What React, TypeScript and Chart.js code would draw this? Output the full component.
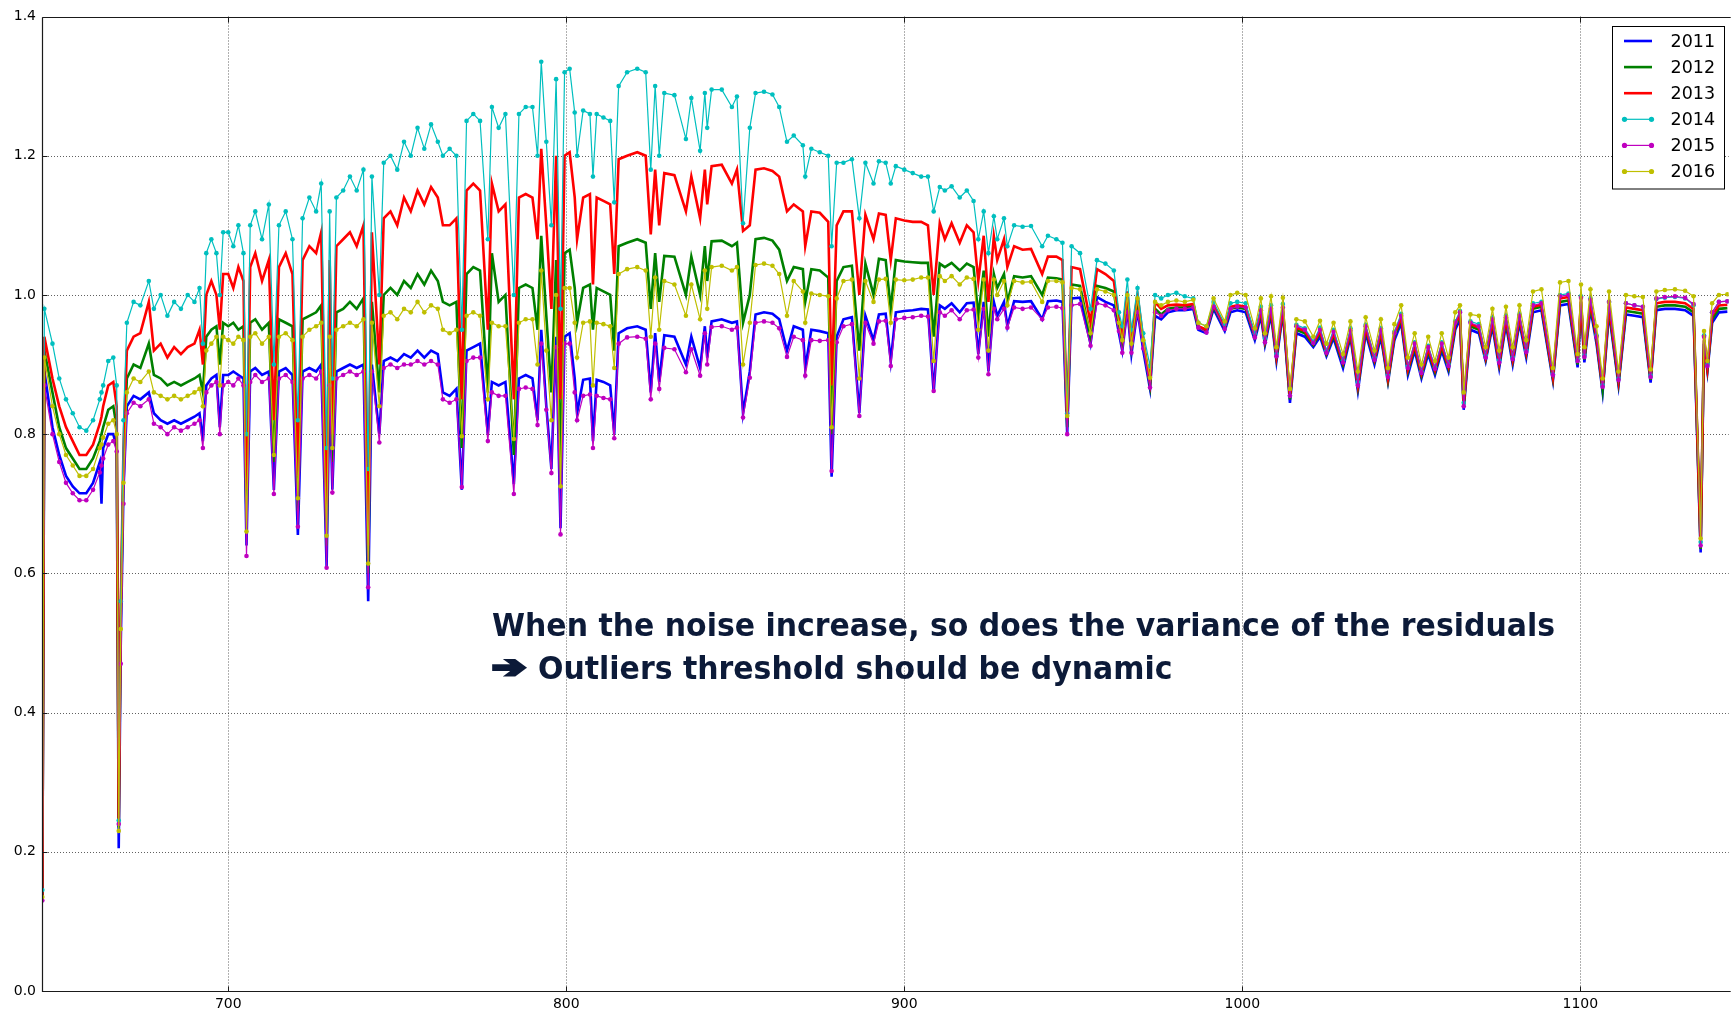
import React, { useEffect, useRef } from "react";
import { Chart, registerables } from "chart.js";

Chart.register(...registerables);

// ---------------- data ----------------
const WAVELENGTH = [
  // 645-670
  645.0, 645.6, 648, 650, 652, 654, 656, 658, 660, 662, 662.5, 663, 664.5, 666, 667, 667.6, 668.2, 669, 670,
  // 672-699
  672, 674, 676.5, 678, 680, 682, 684, 686, 688, 690, 691.5, 692.5, 693.5, 695, 696.5, 697.5, 698.5,
  // 700-801
  700, 701.5, 703, 704.5, 705.4, 706.5, 708, 710, 712, 713.5,
  715, 717, 719, 720.6, 722, 724, 726, 727.5, 729.1, 730,
  730.8, 732, 734, 736, 738, 740, 741.4, 742.5, 744.7, 746,
  748, 750, 752, 754, 756, 758, 760, 762, 763.5, 765.5,
  767.5, 769.1, 770.5, 772.5, 774.5, 776.8, 778, 780, 782, 784.5,
  786, 788, 790, 791.5, 792.6, 794.1, 795.6, 797, 798.3, 799.5,
  801,
  // 802-900
  802.5, 803.2, 805, 807, 807.9, 809, 811, 813, 814.2, 815.5,
  818, 821, 823.5, 825, 826.3, 827.5, 829, 832, 835.4, 837,
  839.6, 841, 841.7, 843, 846, 849, 850.5, 852.3, 854.3, 856,
  858.5, 861, 863, 865.3, 867.3, 870, 870.7, 872.5, 875, 877.5,
  878.5, 880, 882, 884.5, 886.7, 888.5, 890.9, 892.5, 894.5, 896,
  897.5, 900,
  // 902-999
  902.5, 905, 907, 908.7, 910.5, 912, 914, 916.4, 918.5, 920.5,
  921.9, 923.5, 924.9, 926.5, 927.5, 929.5, 930.5, 932.5, 935, 937.5,
  940.8, 942.5, 945, 946.8, 948.2, 949.5, 952, 955.1, 957, 959.5,
  962, 963.5, 964.5, 966, 967.2, 969, 970.7, 972.7, 974.2, 976,
  978, 980.5, 983, 985.5, 987, 989.4, 991.5, 994.8, 996.5, 998.5,
  // 1001-1143
  1001, 1003.7, 1005.5, 1006.7, 1008.5, 1010.1, 1012, 1014.1, 1016, 1018.5,
  1021, 1023, 1024.9, 1027, 1029.8, 1032, 1034.2, 1036.5, 1039.1, 1041,
  1043.1, 1045, 1047, 1049, 1051, 1053, 1055, 1057, 1059, 1061,
  1063, 1064.4, 1065.5, 1067.5, 1070, 1072, 1074, 1076, 1078, 1080,
  1082, 1084, 1086, 1088.5, 1091.9, 1094, 1096.5, 1099.2, 1100.2, 1101.2,
  1103, 1104.8, 1106.6, 1108.5, 1111.3, 1113.5, 1116, 1118.5, 1120.8, 1122.5,
  1125, 1128, 1131, 1133.5, 1135.6, 1136.6, 1137.6, 1139, 1141, 1143.5,
];

const Y2011 = [
  0.13, 0.89, 0.81, 0.77, 0.74, 0.725, 0.715, 0.715, 0.73, 0.76, 0.70, 0.78, 0.80, 0.80, 0.78, 0.205, 0.50, 0.72, 0.84,
  0.855, 0.85, 0.86, 0.83, 0.82, 0.815, 0.82, 0.815, 0.82, 0.825, 0.83, 0.79, 0.87, 0.88, 0.885, 0.81, 0.885,
  0.885, 0.89, 0.885, 0.88, 0.64, 0.89, 0.895, 0.885, 0.89, 0.72,
  0.89, 0.895, 0.885, 0.655, 0.89, 0.895, 0.89, 0.90, 0.61, 0.88,
  0.72, 0.89, 0.895, 0.90, 0.895, 0.90, 0.56, 0.90, 0.80, 0.905,
  0.91, 0.905, 0.915, 0.91, 0.92, 0.91, 0.92, 0.915, 0.86, 0.855,
  0.865, 0.72, 0.92, 0.925, 0.93, 0.80, 0.875, 0.87, 0.875, 0.728,
  0.88, 0.885, 0.88, 0.82, 0.95, 0.84, 0.75, 0.94, 0.665, 0.94,
  0.945,
  0.88, 0.83, 0.878, 0.88, 0.79, 0.878, 0.875, 0.87, 0.80, 0.945,
  0.952, 0.955, 0.95, 0.86, 0.945, 0.875, 0.942, 0.94, 0.90, 0.94,
  0.895, 0.955, 0.91, 0.962, 0.965, 0.96, 0.962, 0.83, 0.89, 0.972,
  0.975, 0.973, 0.965, 0.92, 0.955, 0.95, 0.895, 0.95, 0.948, 0.945,
  0.739, 0.94, 0.965, 0.968, 0.83, 0.97, 0.935, 0.972, 0.973, 0.905,
  0.975, 0.977,
  0.978, 0.98, 0.979, 0.86, 0.985, 0.98, 0.988, 0.975, 0.988, 0.989,
  0.915, 0.99, 0.89, 0.99, 0.97, 0.99, 0.955, 0.991, 0.99, 0.991,
  0.965, 0.991, 0.992, 0.99, 0.80, 0.995, 0.996, 0.93, 0.997, 0.99,
  0.985, 0.945, 0.92, 0.98, 0.915, 0.978, 0.92, 0.865, 0.97, 0.965,
  0.975, 0.978, 0.978, 0.98, 0.95, 0.945, 0.98, 0.948, 0.975, 0.978,
  0.975, 0.935, 0.97, 0.928, 0.972, 0.905, 0.975, 0.845, 0.945, 0.94,
  0.925, 0.94, 0.912, 0.938, 0.895, 0.94, 0.862, 0.945, 0.90, 0.94,
  0.875, 0.935, 0.96, 0.885, 0.92, 0.88, 0.915, 0.885, 0.92, 0.89,
  0.95, 0.965, 0.835, 0.95, 0.945, 0.905, 0.955, 0.895, 0.958, 0.90,
  0.96, 0.91, 0.975, 0.978, 0.877, 0.985, 0.987, 0.896, 0.985, 0.903,
  0.98, 0.93, 0.86, 0.975, 0.87, 0.972, 0.97, 0.968, 0.874, 0.978,
  0.98, 0.98, 0.978, 0.97, 0.63, 0.93, 0.89, 0.96, 0.975, 0.976,
];

const Y2012 = [
  0.13, 0.92, 0.86, 0.81, 0.78, 0.765, 0.75, 0.75, 0.765, 0.79, 0.80, 0.81, 0.835, 0.84, 0.81, 0.235, 0.54, 0.75, 0.88,
  0.90, 0.895, 0.93, 0.885, 0.88, 0.87, 0.875, 0.87, 0.875, 0.88, 0.885, 0.86, 0.94, 0.95, 0.955, 0.90, 0.96,
  0.955, 0.96, 0.95, 0.955, 0.68, 0.96, 0.965, 0.95, 0.96, 0.76,
  0.965, 0.96, 0.955, 0.69, 0.965, 0.97, 0.975, 0.985, 0.64, 0.96,
  0.76, 0.975, 0.98, 0.99, 0.98, 0.995, 0.60, 0.99, 0.86, 1.0,
  1.01, 1.0, 1.02, 1.01, 1.03, 1.015, 1.035, 1.02, 0.99, 0.985,
  0.99, 0.78, 1.03, 1.04, 1.035, 0.86, 1.06, 0.99, 1.0, 0.77,
  1.01, 1.015, 1.01, 0.95, 1.085, 0.97, 0.86, 1.05, 0.75, 1.06,
  1.065,
  1.01, 0.96, 1.01, 1.015, 0.95, 1.01, 1.005, 1.0, 0.92, 1.07,
  1.075, 1.08, 1.075, 0.98, 1.06, 0.99, 1.056, 1.055, 1.0, 1.055,
  1.0, 1.07, 1.02, 1.077, 1.078, 1.07, 1.075, 0.96, 1.0, 1.08,
  1.082, 1.078, 1.065, 1.02, 1.04, 1.037, 0.99, 1.037, 1.035, 1.025,
  0.80, 1.02, 1.04, 1.042, 0.92, 1.045, 1.0, 1.052, 1.05, 0.98,
  1.05, 1.048,
  1.047, 1.046, 1.046, 0.94, 1.045, 1.04, 1.046, 1.035, 1.045, 1.04,
  0.97, 1.035, 0.94, 1.03, 1.01, 1.03, 0.99, 1.027, 1.025, 1.027,
  1.0, 1.025, 1.024, 1.022, 0.81, 1.015, 1.013, 0.94, 1.013, 1.01,
  1.005, 0.955, 0.93, 0.995, 0.925, 0.99, 0.93, 0.87, 0.98, 0.972,
  0.98, 0.982, 0.982, 0.984, 0.953, 0.948, 0.983, 0.952, 0.98, 0.982,
  0.98, 0.94, 0.975, 0.932, 0.977, 0.91, 0.978, 0.85, 0.95, 0.945,
  0.928, 0.945, 0.915, 0.942, 0.90, 0.944, 0.867, 0.95, 0.905, 0.945,
  0.877, 0.94, 0.965, 0.89, 0.925, 0.884, 0.92, 0.889, 0.925, 0.894,
  0.955, 0.97, 0.84, 0.955, 0.95, 0.908, 0.96, 0.90, 0.963, 0.905,
  0.965, 0.915, 0.98, 0.983, 0.88, 0.99, 0.992, 0.90, 0.99, 0.907,
  0.985, 0.935, 0.864, 0.98, 0.874, 0.977, 0.975, 0.973, 0.878, 0.983,
  0.985, 0.985, 0.983, 0.975, 0.635, 0.935, 0.893, 0.965, 0.98, 0.981,
];

const Y2013 = [
  0.13, 0.94, 0.88, 0.84, 0.81, 0.79, 0.77, 0.77, 0.785, 0.815, 0.825, 0.84, 0.87, 0.875, 0.84, 0.24, 0.55, 0.78, 0.92,
  0.94, 0.945, 0.99, 0.92, 0.93, 0.91, 0.925, 0.915, 0.925, 0.93, 0.95, 0.90, 1.0, 1.02, 1.0, 0.95, 1.03,
  1.03, 1.01, 1.04, 1.02, 0.72, 1.04, 1.06, 1.02, 1.05, 0.82,
  1.04, 1.06, 1.03, 0.74, 1.05, 1.07, 1.06, 1.09, 0.68, 1.05,
  0.80, 1.07, 1.08, 1.09, 1.07, 1.10, 0.64, 1.09, 0.90, 1.11,
  1.12, 1.10, 1.14, 1.12, 1.15, 1.13, 1.155, 1.14, 1.10, 1.10,
  1.11, 0.85, 1.15, 1.16, 1.15, 0.95, 1.16, 1.12, 1.13, 0.85,
  1.14, 1.145, 1.14, 1.08, 1.21, 1.10, 0.98, 1.20, 0.85, 1.20,
  1.205,
  1.14, 1.08, 1.14, 1.145, 1.015, 1.14, 1.135, 1.13, 1.03, 1.195,
  1.20, 1.205, 1.20, 1.087, 1.18, 1.10, 1.175, 1.172, 1.12, 1.17,
  1.11, 1.18, 1.13, 1.185, 1.187, 1.16, 1.18, 1.092, 1.10, 1.18,
  1.182, 1.178, 1.17, 1.12, 1.13, 1.12, 1.07, 1.12, 1.118, 1.105,
  0.87, 1.10, 1.12, 1.12, 1.0, 1.115, 1.08, 1.117, 1.115, 1.05,
  1.11, 1.107,
  1.105, 1.105, 1.10, 1.0, 1.103, 1.08, 1.103, 1.075, 1.10, 1.09,
  1.02, 1.085, 0.99, 1.084, 1.05, 1.08, 1.04, 1.07, 1.065, 1.066,
  1.03, 1.055, 1.055, 1.05, 0.82, 1.04, 1.037, 0.96, 1.037, 1.03,
  1.02, 0.965, 0.94, 1.005, 0.935, 1.0, 0.935, 0.875, 0.99, 0.98,
  0.985, 0.986, 0.985, 0.987, 0.955, 0.95, 0.986, 0.955, 0.983, 0.985,
  0.983, 0.942, 0.978, 0.935, 0.98, 0.912, 0.982, 0.852, 0.953, 0.948,
  0.93, 0.948, 0.917, 0.945, 0.903, 0.947, 0.87, 0.953, 0.907, 0.948,
  0.88, 0.943, 0.968, 0.893, 0.928, 0.887, 0.923, 0.892, 0.928, 0.897,
  0.958, 0.972, 0.842, 0.958, 0.953, 0.91, 0.963, 0.902, 0.966, 0.907,
  0.968, 0.917, 0.983, 0.986, 0.882, 0.995, 0.997, 0.903, 0.994, 0.91,
  0.99, 0.938, 0.866, 0.985, 0.877, 0.982, 0.98, 0.978, 0.88, 0.988,
  0.99, 0.99, 0.988, 0.98, 0.64, 0.938, 0.895, 0.97, 0.985, 0.986,
];

const Y2014 = [
  0.145, 0.98, 0.93, 0.88, 0.85, 0.83, 0.81, 0.805, 0.82, 0.85, 0.86, 0.87, 0.905, 0.91, 0.87, 0.245, 0.56, 0.82, 0.96,
  0.99, 0.985, 1.02, 0.98, 1.0, 0.97, 0.99, 0.98, 1.0, 0.99, 1.01, 0.93, 1.06, 1.08, 1.06, 1.0, 1.09,
  1.09, 1.07, 1.10, 1.06, 0.80, 1.10, 1.12, 1.08, 1.13, 0.90,
  1.10, 1.12, 1.08, 0.82, 1.11, 1.14, 1.12, 1.16, 0.78, 1.12,
  0.88, 1.14, 1.15, 1.17, 1.15, 1.18, 0.75, 1.17, 1.0, 1.19,
  1.20, 1.18, 1.22, 1.20, 1.24, 1.21, 1.245, 1.22, 1.20, 1.21,
  1.20, 0.95, 1.25, 1.26, 1.25, 1.08, 1.27, 1.24, 1.26, 1.0,
  1.26, 1.27, 1.27, 1.20, 1.335, 1.22, 1.10, 1.31, 0.98, 1.32,
  1.325,
  1.262, 1.20, 1.265, 1.26, 1.17, 1.26, 1.255, 1.25, 1.133, 1.30,
  1.32, 1.325, 1.32, 1.18, 1.30, 1.20, 1.29, 1.287, 1.224, 1.283,
  1.207, 1.29, 1.24, 1.295, 1.295, 1.27, 1.285, 1.103, 1.24, 1.29,
  1.292, 1.288, 1.27, 1.22, 1.229, 1.215, 1.17, 1.21, 1.205, 1.20,
  1.07, 1.19, 1.19, 1.195, 1.11, 1.19, 1.16, 1.192, 1.19, 1.16,
  1.185, 1.18,
  1.175, 1.17, 1.17, 1.12, 1.155, 1.15, 1.156, 1.14, 1.15, 1.135,
  1.08, 1.12, 1.06, 1.113, 1.08, 1.11, 1.07, 1.10, 1.098, 1.099,
  1.07, 1.085, 1.08, 1.075, 0.83, 1.07, 1.06, 0.98, 1.05, 1.045,
  1.035, 0.975, 0.955, 1.022, 0.95, 1.01, 0.945, 0.898, 1.0, 0.995,
  1.0, 1.003, 0.998, 0.995, 0.96, 0.955, 0.99, 0.958, 0.988, 0.99,
  0.988, 0.945, 0.983, 0.938, 0.985, 0.915, 0.987, 0.855, 0.957, 0.952,
  0.933, 0.953, 0.92, 0.95, 0.906, 0.952, 0.875, 0.957, 0.91, 0.952,
  0.884, 0.947, 0.973, 0.897, 0.932, 0.89, 0.927, 0.896, 0.932, 0.90,
  0.962, 0.977, 0.845, 0.962, 0.958, 0.913, 0.967, 0.906, 0.97, 0.91,
  0.972, 0.92, 0.988, 0.99, 0.886, 1.0, 1.002, 0.906, 0.998, 0.913,
  0.995, 0.942, 0.87, 0.99, 0.88, 0.988, 0.985, 0.983, 0.884, 0.994,
  0.996, 0.997, 0.995, 0.985, 0.645, 0.942, 0.90, 0.975, 0.99, 0.991,
];

const Y2015 = [
  0.13, 0.87, 0.80, 0.76, 0.73, 0.715, 0.705, 0.705, 0.72, 0.745, 0.755, 0.765, 0.785, 0.79, 0.775, 0.24, 0.47, 0.70, 0.83,
  0.845, 0.84, 0.85, 0.815, 0.81, 0.80, 0.81, 0.805, 0.81, 0.815, 0.82, 0.78, 0.86, 0.87, 0.875, 0.80, 0.87,
  0.875, 0.87, 0.88, 0.87, 0.625, 0.875, 0.885, 0.875, 0.88, 0.714,
  0.88, 0.885, 0.875, 0.667, 0.88, 0.885, 0.88, 0.89, 0.608, 0.87,
  0.716, 0.88, 0.885, 0.89, 0.885, 0.89, 0.58, 0.89, 0.788, 0.895,
  0.90, 0.895, 0.90, 0.90, 0.905, 0.90, 0.905, 0.90, 0.85, 0.845,
  0.85, 0.724, 0.905, 0.91, 0.91, 0.79, 0.86, 0.855, 0.855, 0.714,
  0.865, 0.867, 0.865, 0.813, 0.93, 0.835, 0.744, 0.925, 0.656, 0.93,
  0.93,
  0.86, 0.82, 0.855, 0.857, 0.78, 0.855, 0.852, 0.85, 0.794, 0.93,
  0.939, 0.94, 0.937, 0.85, 0.93, 0.865, 0.924, 0.922, 0.889, 0.922,
  0.884, 0.945, 0.90, 0.954, 0.955, 0.95, 0.953, 0.824, 0.881, 0.96,
  0.962, 0.96, 0.952, 0.911, 0.94, 0.935, 0.884, 0.935, 0.934, 0.935,
  0.747, 0.932, 0.955, 0.958, 0.826, 0.96, 0.93, 0.962, 0.963, 0.898,
  0.965, 0.967,
  0.968, 0.97, 0.969, 0.862, 0.975, 0.97, 0.978, 0.965, 0.978, 0.979,
  0.91, 0.98, 0.886, 0.98, 0.965, 0.98, 0.953, 0.982, 0.98, 0.982,
  0.965, 0.982, 0.983, 0.981, 0.80, 0.985, 0.987, 0.927, 0.988, 0.985,
  0.978, 0.948, 0.917, 0.975, 0.917, 0.975, 0.923, 0.867, 0.975, 0.97,
  0.978, 0.98, 0.98, 0.982, 0.953, 0.946, 0.983, 0.951, 0.98, 0.983,
  0.982, 0.939, 0.978, 0.932, 0.98, 0.912, 0.982, 0.855, 0.955, 0.95,
  0.931, 0.95, 0.917, 0.947, 0.903, 0.949, 0.87, 0.955, 0.907, 0.95,
  0.882, 0.945, 0.97, 0.895, 0.93, 0.888, 0.925, 0.894, 0.93, 0.898,
  0.96, 0.975, 0.84, 0.96, 0.955, 0.91, 0.965, 0.903, 0.968, 0.908,
  0.97, 0.918, 0.985, 0.988, 0.885, 0.998, 1.0, 0.905, 0.996, 0.911,
  0.993, 0.94, 0.868, 0.99, 0.878, 0.988, 0.985, 0.983, 0.882, 0.995,
  0.997, 0.998, 0.996, 0.987, 0.64, 0.94, 0.898, 0.975, 0.99, 0.991,
];

const Y2016 = [
  0.135, 0.91, 0.84, 0.80, 0.77, 0.755, 0.74, 0.74, 0.75, 0.78, 0.785, 0.795, 0.815, 0.82, 0.80, 0.23, 0.52, 0.73, 0.86,
  0.88, 0.875, 0.89, 0.86, 0.855, 0.85, 0.855, 0.85, 0.855, 0.86, 0.865, 0.84, 0.92, 0.93, 0.94, 0.87, 0.94,
  0.935, 0.93, 0.94, 0.935, 0.66, 0.94, 0.945, 0.93, 0.94, 0.77,
  0.94, 0.945, 0.935, 0.708, 0.94, 0.95, 0.955, 0.96, 0.654, 0.94,
  0.78, 0.95, 0.955, 0.96, 0.955, 0.965, 0.614, 0.96, 0.84, 0.97,
  0.975, 0.965, 0.98, 0.975, 0.99, 0.975, 0.985, 0.98, 0.95, 0.945,
  0.95, 0.797, 0.97, 0.975, 0.97, 0.85, 0.96, 0.955, 0.955, 0.793,
  0.96, 0.965, 0.965, 0.90, 1.035, 0.92, 0.82, 1.0, 0.725, 1.01,
  1.01,
  0.96, 0.91, 0.96, 0.962, 0.87, 0.96, 0.958, 0.955, 0.895, 1.03,
  1.037, 1.04, 1.035, 0.94, 1.025, 0.95, 1.02, 1.015, 0.97, 1.015,
  0.965, 1.035, 0.98, 1.04, 1.042, 1.035, 1.04, 0.90, 0.96, 1.043,
  1.045, 1.042, 1.03, 0.97, 1.02, 1.005, 0.96, 1.002, 1.0, 0.998,
  0.81, 0.995, 1.02, 1.022, 0.88, 1.02, 0.99, 1.022, 1.023, 0.96,
  1.022, 1.021,
  1.022, 1.025, 1.025, 0.905, 1.027, 1.02, 1.027, 1.015, 1.025, 1.023,
  0.95, 1.022, 0.92, 1.022, 1.0, 1.02, 0.985, 1.02, 1.018, 1.019,
  0.99, 1.02, 1.02, 1.018, 0.826, 1.01, 1.008, 0.945, 1.008, 1.005,
  1.0, 0.96, 0.935, 1.0, 0.93, 0.995, 0.935, 0.881, 0.99, 0.985,
  0.99, 0.992, 0.99, 0.993, 0.96, 0.955, 0.995, 0.962, 1.0, 1.003,
  1.0, 0.952, 0.995, 0.945, 0.998, 0.925, 0.996, 0.865, 0.965, 0.962,
  0.94, 0.963, 0.93, 0.96, 0.915, 0.962, 0.89, 0.968, 0.92, 0.965,
  0.895, 0.958, 0.985, 0.91, 0.945, 0.90, 0.94, 0.905, 0.945, 0.91,
  0.975, 0.985, 0.86, 0.972, 0.97, 0.925, 0.98, 0.92, 0.983, 0.925,
  0.985, 0.935, 1.005, 1.008, 0.895, 1.018, 1.02, 0.915, 1.015, 0.925,
  1.008, 0.955, 0.88, 1.005, 0.89, 1.0, 0.998, 0.997, 0.893, 1.005,
  1.007, 1.008, 1.006, 0.998, 0.65, 0.948, 0.905, 0.988, 1.0, 1.001,
];

const X_TICKS = [700, 800, 900, 1000, 1100];
const Y_TICKS = [0.0, 0.2, 0.4, 0.6, 0.8, 1.0, 1.2, 1.4];
const SERIES_LABELS = ["2011", "2012", "2013", "2014", "2015", "2016"];
const SERIES_COLORS = ["#0000ff", "#008000", "#ff0000", "#00bfbf", "#bf00bf", "#bfbf00"];
const SERIES_MARKERS = [false, false, false, true, true, true];
const SERIES_VALUES = [Y2011, Y2012, Y2013, Y2014, Y2015, Y2016];
const ANNOTATION_LINE1 = "When the noise increase, so does the variance of the residuals";
const ANNOTATION_ARROW = "\u2794";
const ANNOTATION_LINE2 = "Outliers threshold should be dynamic";

// ---------------- layout ----------------
const W = 1731;
const H = 1013;
const X_MIN = 644.9;
const X_MAX = 1143.9;
const Y_MIN = 0;
const Y_MAX = 1.4;
const FONT = "'DejaVu Sans', 'Liberation Sans', sans-serif";

const framePlugin = {
  id: "mplFrame",
  beforeDatasetsDraw(chart: any) {
    const { ctx, chartArea, scales } = chart;
    const { left, right, top, bottom } = chartArea;
    ctx.save();
    ctx.strokeStyle = "rgba(0,0,0,0.62)";
    ctx.lineWidth = 1;
    ctx.setLineDash([1, 2]);
    for (const v of X_TICKS) {
      const x = Math.round(scales.x.getPixelForValue(v)) + 0.5;
      ctx.beginPath();
      ctx.moveTo(x, top);
      ctx.lineTo(x, bottom);
      ctx.stroke();
    }
    for (const v of Y_TICKS) {
      if (v <= Y_MIN || v >= Y_MAX) continue;
      const y = Math.round(scales.y.getPixelForValue(v)) + 0.5;
      ctx.beginPath();
      ctx.moveTo(left, y);
      ctx.lineTo(right, y);
      ctx.stroke();
    }
    ctx.restore();
  },
  afterDatasetsDraw(chart: any) {
    const { ctx, chartArea, scales } = chart;
    const { left, right, top, bottom } = chartArea;
    ctx.save();
    ctx.setLineDash([]);
    ctx.strokeStyle = "#1a1a1a";
    ctx.lineWidth = 1.2;
    const L = Math.round(left) + 0.5;
    const T = Math.round(top) + 0.5;
    const B = Math.round(bottom) + 0.5;
    ctx.beginPath();
    ctx.moveTo(L, T);
    ctx.lineTo(right + 2, T);
    ctx.moveTo(L, T);
    ctx.lineTo(L, B);
    ctx.lineTo(right + 2, B);
    ctx.stroke();
    ctx.lineWidth = 1;
    const tl = 5;
    for (const v of X_TICKS) {
      const x = Math.round(scales.x.getPixelForValue(v)) + 0.5;
      ctx.beginPath();
      ctx.moveTo(x, B);
      ctx.lineTo(x, B - tl);
      ctx.moveTo(x, T);
      ctx.lineTo(x, T + tl);
      ctx.stroke();
    }
    for (const v of Y_TICKS) {
      const y = Math.round(scales.y.getPixelForValue(v)) + 0.5;
      ctx.beginPath();
      ctx.moveTo(L, y);
      ctx.lineTo(L + tl, y);
      ctx.stroke();
    }
    ctx.restore();
  },
  afterDraw(chart: any) {
    const { ctx } = chart;
    ctx.save();
    // legend
    const bx = 1612.5, by = 26.5, bw = 112, bh = 162.5;
    ctx.fillStyle = "#ffffff";
    ctx.fillRect(bx, by, bw, bh);
    ctx.strokeStyle = "#000000";
    ctx.lineWidth = 1;
    ctx.strokeRect(bx, by, bw, bh);
    ctx.font = `17.5px ${FONT}`;
    ctx.textBaseline = "middle";
    ctx.textAlign = "left";
    chart.data.datasets.forEach((ds: any, i: number) => {
      const cy = 41 + i * 26.1;
      ctx.strokeStyle = ds.borderColor;
      ctx.lineWidth = ds.borderWidth;
      ctx.beginPath();
      ctx.moveTo(1624, cy);
      ctx.lineTo(1652, cy);
      ctx.stroke();
      if (ds.pointRadius > 0) {
        ctx.fillStyle = ds.borderColor;
        for (const px of [1624.5, 1651.5]) {
          ctx.beginPath();
          ctx.arc(px, cy, 2.6, 0, Math.PI * 2);
          ctx.fill();
        }
      }
      ctx.fillStyle = "#000000";
      ctx.fillText(ds.label, 1670.5, cy + 1);
    });
    // annotation
    const navy = "#0c1a38";
    ctx.fillStyle = navy;
    ctx.strokeStyle = navy;
    ctx.textBaseline = "alphabetic";
    ctx.font = `bold 32px ${FONT}`;
    const w1 = ctx.measureText(ANNOTATION_LINE1).width;
    const sx = 1063 / w1;
    // line 1
    ctx.save();
    ctx.translate(492, 636);
    ctx.scale(sx, 1);
    ctx.fillText(ANNOTATION_LINE1, 0, 0);
    ctx.restore();
    // line 2: heavy arrow + text
    ctx.save();
    ctx.font = `bold 30px ${FONT}`;
    const aw = ctx.measureText(ANNOTATION_ARROW).width;
    ctx.translate(492, 677);
    ctx.scale(34 / aw, 1);
    ctx.lineWidth = 3.2;
    ctx.lineJoin = "miter";
    ctx.strokeText(ANNOTATION_ARROW, 0, 0);
    ctx.fillText(ANNOTATION_ARROW, 0, 0);
    ctx.restore();
    ctx.save();
    ctx.translate(538, 679);
    ctx.scale(sx, 1);
    ctx.fillText(ANNOTATION_LINE2, 0, 0);
    ctx.restore();
    ctx.restore();
  },
};

export default function App() {
  const canvasRef = useRef<HTMLCanvasElement | null>(null);

  useEffect(() => {
    const canvas = canvasRef.current;
    if (!canvas) return;
    document.body.style.overflow = "hidden";
    const datasets = SERIES_VALUES.map((vals, i) => ({
      label: SERIES_LABELS[i],
      data: WAVELENGTH.map((x, j) => ({ x, y: vals[j] })),
      borderColor: SERIES_COLORS[i],
      backgroundColor: SERIES_COLORS[i],
      pointBackgroundColor: SERIES_COLORS[i],
      borderWidth: SERIES_MARKERS[i] ? 1.2 : 2.6,
      pointRadius: SERIES_MARKERS[i] ? 2.3 : 0,
      pointBorderWidth: 0,
      pointHoverRadius: 0,
      tension: 0,
      order: SERIES_LABELS.length - i,
    }));

    const chart = new Chart(canvas, {
      type: "line",
      data: { datasets },
      options: {
        responsive: false,
        animation: false,
        devicePixelRatio: 1,
        events: [],
        layout: { padding: { top: 16.5, right: 0, bottom: 0, left: 0 } },
        plugins: { legend: { display: false }, tooltip: { enabled: false } },
        scales: {
          x: {
            type: "linear",
            min: X_MIN,
            max: X_MAX,
            grid: { display: false, drawTicks: false, tickLength: 0 },
            border: { display: false },
            afterBuildTicks: (s: any) => {
              s.ticks = X_TICKS.map((v) => ({ value: v }));
            },
            afterFit: (s: any) => {
              s.height = 22;
            },
            ticks: {
              color: "#000",
              font: { family: FONT, size: 14 },
              padding: 5,
              maxRotation: 0,
              autoSkip: false,
              callback: (v: any) => String(v),
            },
          },
          y: {
            type: "linear",
            min: Y_MIN,
            max: Y_MAX,
            grid: { display: false, drawTicks: false, tickLength: 0 },
            border: { display: false },
            afterBuildTicks: (s: any) => {
              s.ticks = Y_TICKS.map((v) => ({ value: v }));
            },
            afterFit: (s: any) => {
              s.width = 42;
            },
            ticks: {
              color: "#000",
              font: { family: FONT, size: 14 },
              padding: 6,
              autoSkip: false,
              callback: (v: any) => Number(v).toFixed(1),
            },
          },
        },
      },
      plugins: [framePlugin],
    } as any);

    return () => {
      chart.destroy();
    };
  }, []);

  return (
    <div
      style={{
        position: "absolute",
        left: 0,
        top: 0,
        width: W,
        height: H,
        overflow: "hidden",
        background: "#ffffff",
      }}
    >
      <canvas ref={canvasRef} width={W} height={H} style={{ display: "block", width: W, height: H }} />
    </div>
  );
}
